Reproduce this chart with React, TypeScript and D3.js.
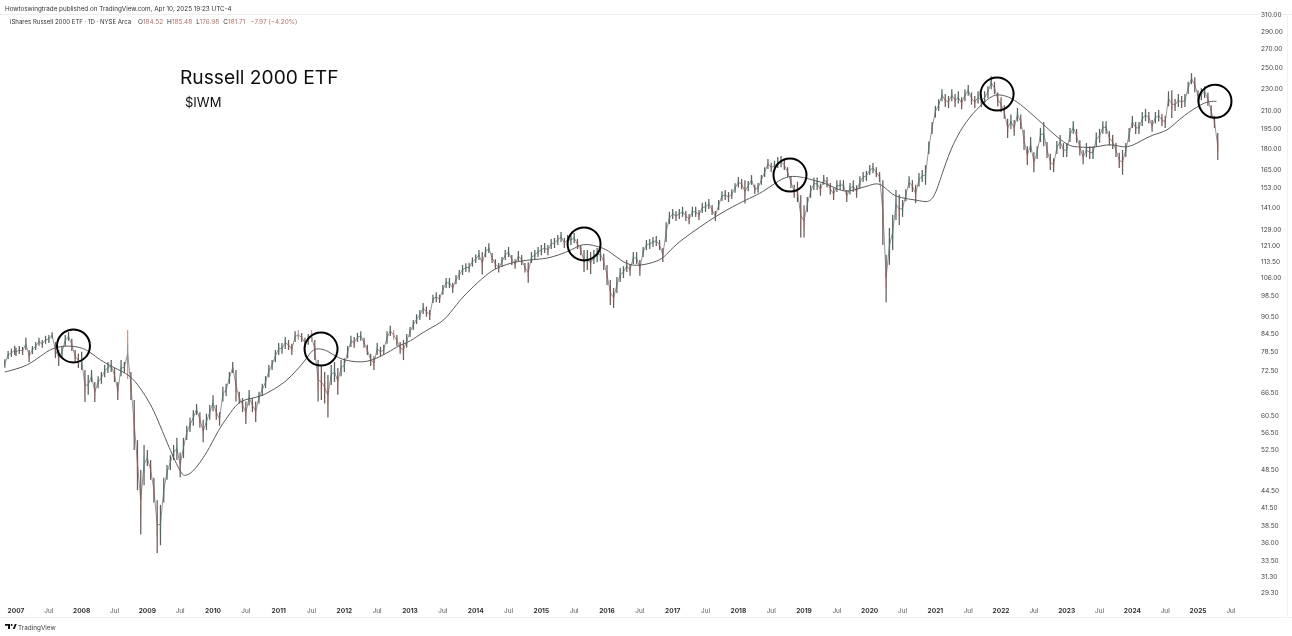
import React from "react";
import * as d3 from "d3";

const priceTicks = [310,290,270,250,230,210,195,180,165,153,141,129,121,113.5,106,98.5,90.5,84.5,78.5,72.5,66.5,60.5,56.5,52.5,48.5,44.5,41.5,38.5,36,33.5,31.3,29.3];
const yearTicks = [2007,2008,2009,2010,2011,2012,2013,2014,2015,2016,2017,2018,2019,2020,2021,2022,2023,2024,2025];

const bars2006 = [[73.5,76.1],[76.1,78.7],[76.8,79.4],[77.4,80.4]];
const bars2007 = [[77.1,79.7],[77.7,80.3],[77.4,80],[79,83],[75.2,79],[77.7,80.3],[79,81.6],[80.4,83],[79.7,82.3],[81,83.7],[81.3,84],[82.8,84.9],[76.4,81.6],[74,79],[76.4,80.3],[80.3,84],[82,85],[78.7,82.7],[75.2,79],[73.4,77.8]];
const bars2008 = [[72.8,78.4],[63.9,72.8],[65.8,71.3],[69.3,72.8],[63.9,69.3],[67.6,71],[68.8,72.2],[70.7,74.3],[71.9,75.2],[72.2,75.8],[69.3,73.4],[64.4,69.3],[71,75.8],[71.9,75.2],[70.2,85.7],[64.4,72.2],[52.5,64.4],[44.6,54.7],[37.2,48.4],[45.5,53.6]];
const bars2009 = [[49.2,52.5],[46.5,50.4],[42.4,46.9],[34.5,42.8],[35.6,42],[42.4,46.9],[46.5,49.4],[48.4,51.4],[50.4,53.6],[50.4,55.2],[47,52],[50.8,55.2],[54.7,58],[56.5,59.9],[58,61.8],[60.6,63.4],[57.5,61.3],[54.2,59.4],[57,60.9],[59.4,63.1]];
const bars2010 = [[61.5,65.7],[59.4,63.1],[58,61.3],[64,68],[65.5,68.8],[68.8,72.2],[71.9,75.2],[64,72.8],[63.5,66.6],[61.3,64.9],[58.4,64],[63,67.1],[61.3,64.9],[58.9,64],[63.5,66.6],[65.5,68.8],[67.6,71],[70.7,74.3],[72.8,75.8],[75.2,79]];
const bars2011 = [[77.4,81.3],[77.8,81.3],[79.3,83.3],[79,82.3],[77.4,81],[81.6,85.3],[82.3,85.7],[81.6,84.7],[79.7,83],[80.7,84.3],[81.6,85.7],[75.8,82.3],[64,75.8],[64.4,74.3],[63.5,72.2],[60,71.3],[68.5,74.3],[69.3,75.2],[65.8,73.4],[71,75.8]];
const bars2012 = [[72.2,76.4],[76.4,80.3],[80,83.7],[79.7,83.3],[81.6,84.7],[82,85.3],[79.7,83],[77.4,80.7],[74,77.8],[72.8,77],[77.4,81.3],[76.8,80],[77.4,80.7],[81,85.3],[83.6,87.2],[82.3,85.7],[80.3,84],[77.8,81.6],[75.8,82.3],[79.7,84.3]];
const bars2013 = [[83.3,86.8],[85.7,89.3],[87.8,91.4],[89.3,93],[91.5,95.7],[90.5,94.3],[89.3,93],[95.7,99],[96,100],[95.7,99],[99,103],[101.7,106],[101.7,106],[99.7,103.8],[103.3,107.3],[105.1,109.5],[107.3,111.7],[108.6,112.6],[108.4,112.8],[111,115.3]];
const bars2014 = [[112.7,116.6],[114,118.8],[107.5,117.8],[115.4,120.3],[117.3,122.1],[112.7,117.3],[110,114.4],[108.4,112.7],[111,115.4],[114,118.8],[115.4,120.3],[111.8,116.4],[110,114.4],[113.5,118.3],[111.8,116.4],[108.4,112.7],[103.9,113],[112.7,117.8],[114,118.8],[115.4,120.3]];
const bars2015 = [[116.3,121.3],[117.3,122.3],[116.3,121.3],[119.3,124.3],[119.8,124.8],[121.3,126.3],[122.8,127.8],[119.8,124.8],[121.3,126.3],[121.3,126.3],[122.3,127.3],[119.3,124.3],[116.3,121.3],[108.6,118.8],[109.5,118.8],[107.7,117.8],[112.2,118.8],[113,119.8],[113.5,120.3],[109.5,117]];
const bars2016 = [[103,111.7],[94.9,105.1],[93.8,101.7],[99.7,106.4],[104.3,110.4],[106,111.2],[108.6,114],[107,112.2],[112.2,117.8],[112.2,117.8],[107,114],[115.4,120.3],[118.8,123.8],[119.3,124.3],[120.3,125.3],[120.8,125.8],[118.8,123.8],[113.1,119.8],[122.8,133],[132,138.8]];
const bars2017 = [[134.8,140.5],[133.7,139.3],[134.8,140.5],[136,141.7],[133.7,139.3],[132,137.6],[136,141.7],[136,141.7],[134.3,139.9],[138.2,144],[138.8,144.6],[140.5,146.3],[137,142.8],[133.7,139.3],[139.9,145.7],[145.1,151],[145.7,151.7],[144.5,150.5],[146.3,152.3],[150,156]];
const bars2018 = [[153.3,160],[152.3,158.7],[143.7,158],[151,157.5],[155,161.3],[149.3,155],[150,156.2],[155,161.3],[160,166.6],[165.3,172.2],[163.3,169.7],[164,171],[166,173.6],[166.6,174.3],[164.7,171.5],[160,166.6],[153,160.6],[147,155],[144.5,157],[125,148.5]];
const bars2019 = [[125,142.6],[138.8,147.5],[147,154.7],[151.7,159.7],[151.7,159.7],[148.3,155.8],[155,161.3],[153.3,160],[149,156.2],[145.7,153],[150.5,158],[151.7,158],[151.7,158],[144.5,151.7],[149,156.2],[150.5,158],[147,154.7],[153,160.6],[156.8,163.3],[157.4,164]];
const bars2020 = [[161.3,168],[162.5,169.5],[160,166.6],[156.8,163.3],[121.3,158],[96,116.5],[111.8,130],[118.8,137],[134.3,151.7],[131.6,149],[136,145.7],[145,152.3],[153,160.6],[150.5,158],[143.8,155],[154,162.6],[156.8,164.7],[155,168],[175.8,185],[190.8,200.4]];
const bars2021 = [[204,214],[209.6,219.9],[218,229],[213,224.5],[212,222.7],[218,229],[213,224.5],[216,227],[211,221.6],[218,229],[223,233],[215,226],[212,222.7],[216,227],[213,224.5],[216,227],[221,231.8],[229,241.5],[224.5,236],[213.5,226]];
const bars2022 = [[208.5,221.6],[203,214.5],[187.7,203],[194.7,206.5],[189.3,202],[200.7,212.2],[194.7,206.5],[178.7,194],[168,181.5],[177,188.3],[163.2,177],[172.2,181.5],[184.6,195.5],[181.5,200.4],[173,184.6],[164.7,176],[163.2,172.8],[175.8,185.3],[179.4,190],[173.6,183.8]];
const bars2023 = [[173.6,183.8],[184.6,195.5],[191,201],[184,194.7],[174.8,186],[168.5,178.7],[173.6,183.8],[172.2,181.5],[172.2,181.5],[181,192],[184,194.7],[191,201],[191,201],[182,193],[179.4,190],[173.6,183.8],[166,176.7],[161.5,178.7],[173.6,183.8],[184.6,195.5]];
const bars2024 = [[195.5,205.4],[190.8,200.4],[190.8,200.4],[197,208.7],[201,211.3],[199,208.7],[192.4,202],[199,208.7],[200.7,210.4],[197,207],[195.5,205.4],[213.5,227],[203.6,228],[209.6,220],[213,224.5],[212,222.7],[213,224.5],[224.5,236],[233.7,244.5],[226.2,240.5]];
const bars2025 = [[216.8,228],[219,230],[221,231.8],[214,226],[204,214.5],[195.5,205.4],[171.5,191.5]];

const barYears = [
  [2006.83, bars2006],[2007, bars2007],[2008, bars2008],[2009, bars2009],[2010, bars2010],[2011, bars2011],
  [2012, bars2012],[2013, bars2013],[2014, bars2014],[2015, bars2015],[2016, bars2016],[2017, bars2017],
  [2018, bars2018],[2019, bars2019],[2020, bars2020],[2021, bars2021],[2022, bars2022],[2023, bars2023],
  [2024, bars2024],[2025, bars2025],
] as [number, number[][]][];

const maYears = [2006.83,2007.06,2007.21,2007.37,2007.55,2007.72,2007.87,2008.02,2008.13,2008.28,2008.48,2008.74,2008.89,2009.04,2009.16,2009.30,2009.50,2009.57,2009.68,2009.80,2009.95,2010.08,2010.23,2010.38,2010.53,2010.72,2010.87,2011.10,2011.28,2011.43,2011.51,2011.60,2011.75,2011.90,2012.09,2012.27,2012.44,2012.65,2012.85,2013.00,2013.20,2013.41,2013.56,2013.76,2013.96,2014.22,2014.37,2014.57,2014.78,2014.98,2015.13,2015.39,2015.54,2015.66,2015.89,2016.01,2016.20,2016.38,2016.65,2016.85,2016.96,2017.16,2017.42,2017.64,2017.92,2018.18,2018.37,2018.56,2018.76,2019.01,2019.17,2019.32,2019.50,2019.65,2019.81,2020.00,2020.16,2020.31,2020.46,2020.72,2020.89,2020.99,2021.12,2021.27,2021.48,2021.68,2021.88,2022.04,2022.19,2022.40,2022.63,2022.86,2023.05,2023.20,2023.40,2023.61,2023.77,2023.92,2024.12,2024.31,2024.53,2024.73,2024.98,2025.14,2025.28];
const maValues = [72.2,73.4,74.6,77,79.6,80.3,80.3,79.6,78.3,75.8,73.6,71.3,67.7,63.7,59.4,54.1,47.9,47.1,47.9,49.8,53,57,60.3,63.9,64.7,65.3,66.7,69.2,72.8,76.4,79,79.6,78.8,76.4,75.4,75.1,75.8,78,80.7,81.7,85,87.5,90,97,102.3,108.9,111,113,114,114.5,115,117.8,120.3,122.1,120.3,118.8,114,111,112.3,114.5,118.8,124.5,130.6,136,142,146.9,150.5,156.2,161.3,159.7,157.5,156.2,152.3,150.5,152.3,154.7,156.8,149.7,146.9,145.7,144,147.5,164.7,184,202,214,224.5,223.6,220,210.4,199,188,181,181,180,183,182,180,185,190.5,192.6,203.6,213,218,218];

const circleYears = [2007.875,2011.645,2015.65,2018.786,2021.94,2025.258];
const circlePrices = [80.3,79.3,121.8,161.3,224.5,218];

const legendName = "iShares Russell 2000 ETF · 1D · NYSE Arca";
const legendOhlc = [["O","184.52"],["H","185.48"],["L","176.98"],["C","181.71"]];
const legendChange = "−7.97 (−4.20%)";
const publishedLine = "Howtoswingtrade published on TradingView.com, Apr 10, 2025 19:23 UTC-4";

const W = 1292, H = 636;
const font = "Inter, 'Noto Sans', sans-serif";
const x = d3.scaleLinear().domain([2007, 2026]).range([16, 16 + 19 * 65.67]);
const y = d3.scaleLog().domain([29.3, 310]).range([593, 15]);

const candles: { x: number; lo: number; hi: number; mid: number; up: boolean }[] = [];
let prevMid = 0;
for (const [start, list] of barYears) {
  list.forEach(([lo, hi], i) => {
    const mid = (lo + hi) / 2;
    candles.push({ x: start + i * 0.05, lo, hi, mid, up: mid >= prevMid });
    prevMid = mid;
  });
}
const spikeHigh = 85.7;
const maPath = d3.line<number>().x((_, i) => x(maYears[i])).y((v) => y(v)).curve(d3.curveBasis)(maValues) as string;
const tracePath = d3.line<typeof candles[number]>().x((c) => x(c.x)).y((c) => y(c.mid))(candles) as string;

export default function App() {
  return (
    <svg width={W} height={H} style={{ position: "absolute", left: 0, top: 0, background: "#fff", fontFamily: font }}>
      <defs>
        <filter id="soft" x="-2%" y="-2%" width="104%" height="104%">
          <feGaussianBlur stdDeviation={0.4} />
        </filter>
        <filter id="softText" x="-2%" y="-2%" width="104%" height="104%">
          <feGaussianBlur stdDeviation={0.22} />
        </filter>
      </defs>
      <line x1={0} x2={W} y1={14.5} y2={14.5} stroke="#efefef" />
      <line x1={0} x2={W} y1={617.5} y2={617.5} stroke="#efefef" />
      <line x1={1287.5} x2={1287.5} y1={14} y2={617} stroke="#f2f2f2" />

      <g filter="url(#softText)">
        <text x={5} y={10.5} fontSize={6.3} fill="#333">{publishedLine}</text>
        <text x={10} y={24.4} fontSize={6.05} fill="#333">{legendName}</text>
        <text x={138} y={24.4} fontSize={6.45} fill="#333">
          {legendOhlc.map(([k, v], i) => (
            <tspan key={k} dx={i ? 4 : 0}>{k}<tspan fill="#b0736a">{v}</tspan></tspan>
          ))}
          <tspan dx={5} fill="#b0736a">{legendChange}</tspan>
        </text>
        <text x={180} y={84} fontSize={19.2} fill="#111">Russell 2000 ETF</text>
        <text x={185} y={107} fontSize={13} fill="#111">$IWM</text>
        {priceTicks.map((t) => (
          <text key={t} x={1261} y={y(t) + 2.4} fontSize={6.5} fill="#444">{t.toFixed(2)}</text>
        ))}
        {yearTicks.map((t) => (
          <text key={t} x={x(t)} y={613} fontSize={6.6} fontWeight={700} fill="#333" textAnchor="middle">{t}</text>
        ))}
        {yearTicks.map((t) => (
          <text key={t} x={x(t + 0.5)} y={613} fontSize={6.4} fill="#555" textAnchor="middle">Jul</text>
        ))}
        <text x={18} y={629.6} fontSize={6.4} fill="#444">TradingView</text>
      </g>

      <g filter="url(#soft)">
        <path d={tracePath} fill="none" stroke="#6b6b6b" strokeWidth={0.9} opacity={0.8} />
        {candles.map((c, i) => {
          const top = y(c.hi), bot = y(c.lo), h = bot - top;
          const spike = c.hi === spikeHigh;
          return (
            <g key={i}>
              <line x1={x(c.x)} x2={x(c.x)} y1={top} y2={bot} stroke={spike ? "#c89a8e" : c.up ? "#5a615f" : "#6a5a58"} strokeWidth={1.25} />
              <line x1={x(c.x)} x2={x(c.x)} y1={top + h * 0.3} y2={bot - h * 0.3} stroke={c.up ? "#3f8a80" : "#b05a58"} strokeWidth={1.5} opacity={0.35} />
            </g>
          );
        })}
        <path d={maPath} fill="none" stroke="#5a5a5a" strokeWidth={1} />
      </g>
      {circleYears.map((yr, i) => (
        <circle key={yr} cx={x(yr)} cy={y(circlePrices[i])} r={16.5} fill="none" stroke="#000" strokeWidth={2} />
      ))}

      <g fill="#111">
        <path d="M5 624h5v5h-2v-3.2H5z" />
        <circle cx={11.6} cy={625} r={1} />
        <path d="M12.8 629l2-5h1.9l-2 5z" />
      </g>
    </svg>
  );
}
